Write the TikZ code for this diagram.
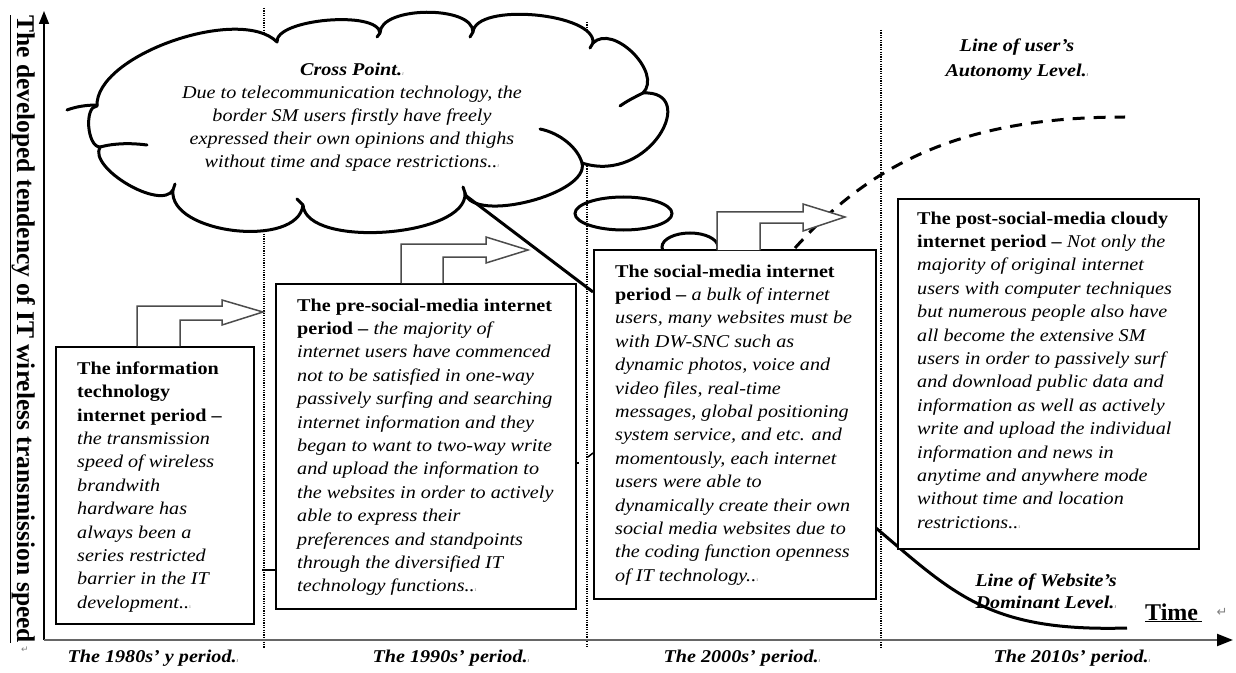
\documentclass[tikz,border=0pt]{standalone}
\usepackage{fontspec}
\setmainfont{Liberation Serif}[FakeStretch=1.12]
\newfontfamily\plainserif{Liberation Serif}
\newfontfamily\dejavu{DejaVu Sans}
\usetikzlibrary{arrows.meta}
\newcommand\pmk{{\fontsize{6bp}{6bp}\selectfont\color{black!45}ı}}
\begin{document}
\begin{tikzpicture}[x=1bp,y=-1bp,
  divider/.style={line width=1.3bp, dash pattern=on 1.2bp off 1.2bp},
  cloudline/.style={line width=3bp, line cap=round, line join=round},
  pbox/.style={draw=black, fill=white, line width=1.7bp, inner sep=0pt, anchor=north west},
  barrow/.style={draw=black!70, line width=1.5bp, fill=white, line join=miter},
  boxtext/.style={anchor=north west, align=left, inner sep=0pt, font=\fontsize{18bp}{23.4bp}\selectfont},
  period/.style={anchor=base, inner sep=0pt, font=\fontsize{18bp}{18bp}\selectfont\bfseries\itshape},
  tinymark/.style={inner sep=0pt, text=black!50, font=\dejavu\fontsize{9bp}{9bp}\selectfont}]
\path[use as bounding box] (0,0) rectangle (1236,673);

% period dividers
\draw[divider] (264,8) -- (264,648);
\draw[divider] (587,22) -- (587,648);
\draw[divider] (881,30) -- (881,648);

% axes
\coordinate (O) at (44,640);
\coordinate (ytop) at (44,11);
\coordinate (xend) at (1233,640);
\draw[line width=1.5bp, -{Triangle[length=13bp,width=10bp]}] (O) -- (ytop);
\draw[line width=2.2bp, draw=black!60, -{Triangle[length=16bp,width=12bp,color=black]}] (O) -- (xend);

% cloud
\draw[cloudline, fill=white] (97,106)
  .. controls (95,55) and (240,5) .. (277,42)
  .. controls (275,19) and (378,10) .. (380,33)
  .. controls (380,6) and (473,5) .. (473,32)
  .. controls (476,2) and (596,13) .. (593,43)
  .. controls (613,23) and (663,73) .. (643,93)
  .. controls (700,90) and (650,185) .. (582,163)
  .. controls (590,194) and (473,224) .. (465,193)
  .. controls (468,237) and (306,249) .. (303,205)
  .. controls (298,249) and (168,234) .. (173,190)
  .. controls (161,211) and (88,168) .. (100,147)
  .. controls (87,147) and (84,106) .. (97,106) -- cycle;
\draw[cloudline] (97,105) .. controls (85,105) and (75,107) .. (67,110);
\draw[cloudline] (100,147) .. controls (115,143) and (132,143) .. (147,145);
\draw[cloudline] (173,190) -- (175,184);
\draw[cloudline] (303,205) -- (297,199);
\draw[cloudline] (465,193) -- (463,187);
\draw[cloudline] (582,163) .. controls (578,148) and (560,133) .. (540,129);
\draw[cloudline] (643,93) .. controls (635,97) and (627,101) .. (620,106);
\draw[cloudline] (593,43) -- (590,48);
\draw[cloudline] (473,32) -- (470,37);
\draw[cloudline] (380,33) -- (377,37);
\node[align=center, anchor=north, inner sep=0pt, font=\fontsize{18bp}{23bp}\selectfont\itshape] (cloudtext) at (352,63)
  {\textbf{Cross Point.}\pmk\\
   Due to telecommunication technology, the\\
   border SM users firstly have freely\\
   expressed their own opinions and thighs\\
   without time and space restrictions..\pmk};

% cloud tail and thought bubbles
\coordinate (tailA) at (465,195);
\coordinate (tailB) at (593,292);
\draw[line width=3bp] (tailA) -- (tailB);
\draw[line width=3bp] (623.5,213.5) ellipse [x radius=48.5, y radius=16.5];
\draw[line width=3bp, fill=white] (690,247) ellipse [x radius=28, y radius=14];

% trend lines
\coordinate (autoA) at (795,248);
\coordinate (autoB) at (1125,117);
\draw[line width=3bp, dash pattern=on 12bp off 9bp] (autoA) .. controls (870,165) and (960,117) .. (autoB);
\coordinate (webA) at (876,528);
\coordinate (webB) at (1127,628);
\draw[line width=3bp] (webA) .. controls (955,595) and (990,632) .. (webB);

% small stubs
\draw[line width=2bp] (262,570) -- (275,570);
\draw[line width=1.5bp] (573,463) -- (579,463);
\draw[line width=1.5bp] (588,457) -- (593,453);

% period boxes
\node[pbox, minimum width=198bp, minimum height=277bp] (b1) at (55,346) {};
\node[pbox, minimum width=300bp, minimum height=325bp] (b2) at (275,283) {};
\node[pbox, minimum width=282bp, minimum height=349bp] (b3) at (593,249) {};
\node[pbox, minimum width=301bp, minimum height=350bp] (b4) at (897,198) {};

% block arrows
\draw[barrow] (137,346) -- (137,306) -- (222,306) -- (222,300) -- (263,312) -- (222,325) -- (222,320) -- (180,320) -- (180,346);
\draw[barrow] (401,283) -- (401,244) -- (486,244) -- (486,237) -- (528,250) -- (486,263) -- (486,257) -- (443,257) -- (443,283);
\draw[barrow] (717,250) -- (717,212) -- (803,212) -- (803,204) -- (845,217) -- (803,231) -- (803,223) -- (760,223) -- (760,250);

% box texts
\node[boxtext] (t1) at (77,361.5)
  {\textbf{The information}\\
   \textbf{technology}\\
   \textbf{internet period –}\\
   \textit{the transmission}\\
   \textit{speed of wireless}\\
   \textit{brandwith}\\
   \textit{hardware has}\\
   \textit{always been a}\\
   \textit{series restricted}\\
   \textit{barrier in the IT}\\
   \textit{development..}\pmk};
\node[boxtext] (t2) at (297,298.5)
  {\textbf{The pre-social-media internet}\\
   \textbf{period –} \textit{the majority of}\\
   \textit{internet users have commenced}\\
   \textit{not to be satisfied in one-way}\\
   \textit{passively surfing and searching}\\
   \textit{internet information and they}\\
   \textit{began to want to two-way write}\\
   \textit{and upload the information to}\\
   \textit{the websites in order to actively}\\
   \textit{able to express their}\\
   \textit{preferences and standpoints}\\
   \textit{through the diversified IT}\\
   \textit{technology functions..}\pmk};
\node[boxtext] (t3) at (615,264.5)
  {\textbf{The social-media internet}\\
   \textbf{period –} \textit{a bulk of internet}\\
   \textit{users, many websites must be}\\
   \textit{with DW-SNC such as}\\
   \textit{dynamic photos, voice and}\\
   \textit{video files, real-time}\\
   \textit{messages, global positioning}\\
   \textit{system service, and etc. and}\\
   \textit{momentously, each internet}\\
   \textit{users were able to}\\
   \textit{dynamically create their own}\\
   \textit{social media websites due to}\\
   \textit{the coding function openness}\\
   \textit{of IT technology..}\pmk};
\node[boxtext] (t4) at (917,211.5)
  {\textbf{The post-social-media cloudy}\\
   \textbf{internet period –} \textit{Not only the}\\
   \textit{majority of original internet}\\
   \textit{users with computer techniques}\\
   \textit{but numerous people also have}\\
   \textit{all become the extensive SM}\\
   \textit{users in order to passively surf}\\
   \textit{and download public data and}\\
   \textit{information as well as actively}\\
   \textit{write and upload the individual}\\
   \textit{information and news in}\\
   \textit{anytime and anywhere mode}\\
   \textit{without time and location}\\
   \textit{restrictions..}\pmk};

% line labels
\node[align=center, anchor=north, inner sep=0pt, font=\fontsize{18bp}{25bp}\selectfont\bfseries\itshape] (autolab) at (1017,39)
  {Line of user’s\\ Autonomy Level.\pmk};
\node[align=center, anchor=north, inner sep=0pt, font=\fontsize{18bp}{22bp}\selectfont\bfseries\itshape] (weblab) at (1046,574)
  {Line of Website’s\\ Dominant Level.\pmk};

% axis labels
\node[rotate=-90, anchor=base west, inner sep=0pt, font=\plainserif\bfseries\fontsize{25.5bp}{25.5bp}\selectfont] (ylab) at (17,15)
  {\underline{The developed tendency of IT wireless transmission speed}};
\node[tinymark] (ylabmark) at (25,650) {↵};
\node[anchor=base west, inner sep=0pt, font=\plainserif\bfseries\fontsize{24bp}{24bp}\selectfont] (timelab) at (1145,620) {\underline{Time\,}};
\node[tinymark, font=\dejavu\fontsize{13bp}{13bp}\selectfont] (timemark) at (1222,612) {↵};

% period labels
\node[period] (p1) at (153,662) {The 1980s’ y period.\pmk};
\node[period] (p2) at (451,662) {The 1990s’ period.\pmk};
\node[period] (p3) at (742,662) {The 2000s’ period.\pmk};
\node[period] (p4) at (1072,662) {The 2010s’ period.\pmk};
\end{tikzpicture}
\end{document}
